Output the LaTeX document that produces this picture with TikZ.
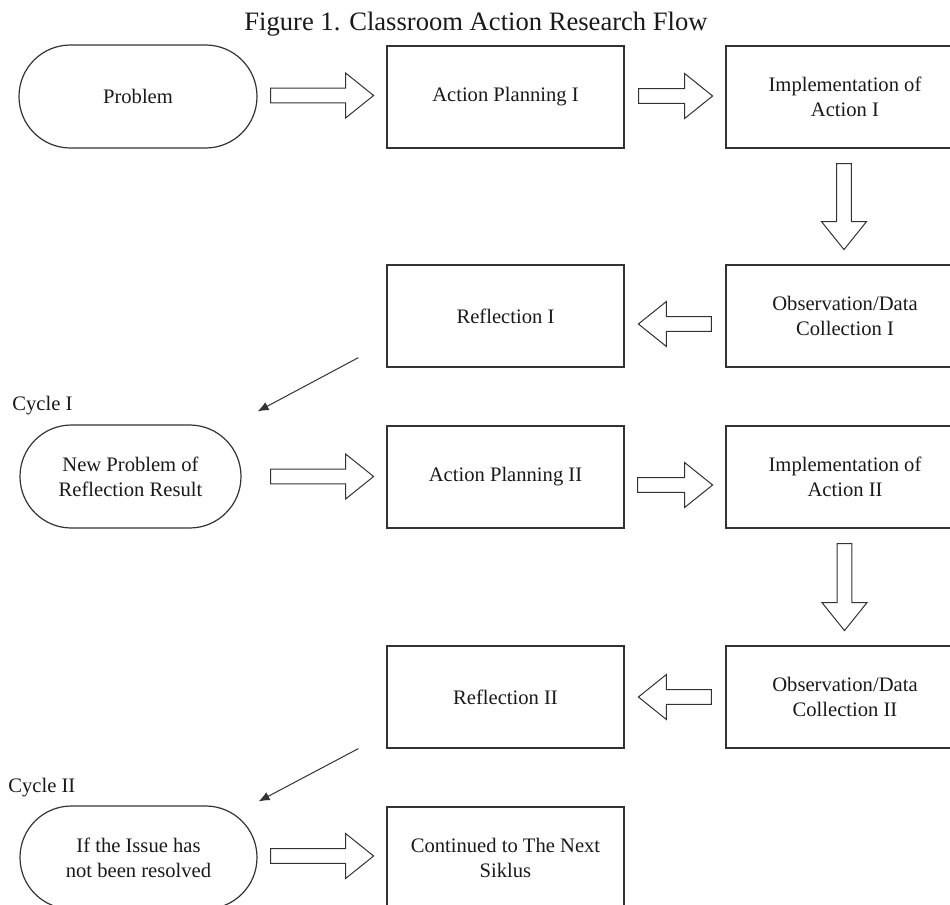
\documentclass[tikz,border=0pt]{standalone}
\usepackage{fontspec}
\setmainfont{Liberation Serif}
\usetikzlibrary{calc,arrows.meta}
\definecolor{ln}{HTML}{333333}
\definecolor{tx}{HTML}{1A1A1A}
\tikzset{
  boxtext/.style={font=\fontsize{10.3}{12.5}\selectfont, text=tx, align=center},
  procbox/.style={boxtext, draw=ln, line width=0.6pt, minimum width=118.5pt, minimum height=51pt, inner sep=0pt},
  termbox/.style={boxtext, draw=ln, line width=0.6pt, minimum height=51.5pt, rounded corners=25.7pt, inner sep=0pt},
  arrowline/.style={draw=ln, line width=0.5pt, line join=miter, fill=white},
  diagline/.style={draw=ln, line width=0.5pt, -{Latex[length=5.5pt,width=4.5pt]}},
  pics/barrow/.style={code={
    \draw[arrowline] (0,-7.3) -- ({#1-28},-7.3) -- ({#1-28},-22.5) -- (#1,0)
      -- ({#1-28},22.5) -- ({#1-28},7.3) -- (0,7.3) -- cycle;}}
}
\begin{document}
\begin{tikzpicture}[x=0.5pt,y=-0.5pt]
\useasboundingbox (0,0) rectangle (950,905);
\clip (0,0) rectangle (950,905);
\fill[white] (0,0) rectangle (950,905);

\node[font=\fontsize{13.3}{16}\selectfont, text=tx, anchor=base] (title) at (476,30) {Figure 1. Classroom Action Research Flow};

% row 1
\node[termbox, minimum width=119pt] (prob) at (138,96.5) {Problem};
\node[procbox] (ap1) at (505.5,97) {Action Planning I};
\node[procbox, minimum width=119pt] (impl1) at (845,97) {Implementation of\\Action I};
% row 2
\node[procbox, minimum width=119pt] (obs1) at (845,316) {Observation/Data\\Collection I};
\node[procbox] (refl1) at (505.5,316) {Reflection I};
% row 3
\node[termbox, minimum width=110.5pt] (np) at (130.5,476.5) {New Problem of\\Reflection Result};
\node[procbox] (ap2) at (505.5,477) {Action Planning II};
\node[procbox, minimum width=119pt] (impl2) at (845,477) {Implementation of\\Action II};
% row 4
\node[procbox, minimum width=119pt] (obs2) at (845,697) {Observation/Data\\Collection II};
\node[procbox] (refl2) at (505.5,697) {Reflection II};
% row 5
\node[termbox, minimum width=118.5pt] (iss) at (138.5,857.5) {If the Issue has\\not been resolved};
\node[procbox] (cont) at (505.5,858) {Continued to The Next\\Siklus};

% cycle labels
\node[boxtext, anchor=base west, inner sep=0pt] (cyc1) at (12,410) {Cycle I};
\node[boxtext, anchor=base west, inner sep=0pt] (cyc2) at (8,792) {Cycle II};

% block arrows
\pic at ($(prob.east)+(13,-1)$) {barrow=103};
\pic at ($(ap1.east)+(14,-1)$) {barrow=74};
\pic[rotate=-90] at ($(impl1.south)+(-1,15)$) {barrow=86};
\pic[rotate=180] at ($(obs1.west)+(-14,8)$) {barrow=73};
\pic at ($(np.east)+(29,0)$) {barrow=103};
\pic at ($(ap2.east)+(13,8)$) {barrow=75};
\pic[rotate=-90] at ($(impl2.south)+(-0.5,15)$) {barrow=87};
\pic[rotate=180] at ($(obs2.west)+(-14,0)$) {barrow=73};
\pic at ($(iss.east)+(13,-1.5)$) {barrow=103};

% diagonal connectors
\coordinate (d1s) at ($(refl1.south west)+(-28,-10)$);
\coordinate (d1e) at ($(np.north east)+(16,-13)$);
\coordinate (d2s) at ($(refl2.south west)+(-28,0)$);
\coordinate (d2e) at ($(iss.north east)+(1,-4)$);
\draw[diagline] (d1s) -- (d1e);
\draw[diagline] (d2s) -- (d2e);
\end{tikzpicture}
\end{document}
